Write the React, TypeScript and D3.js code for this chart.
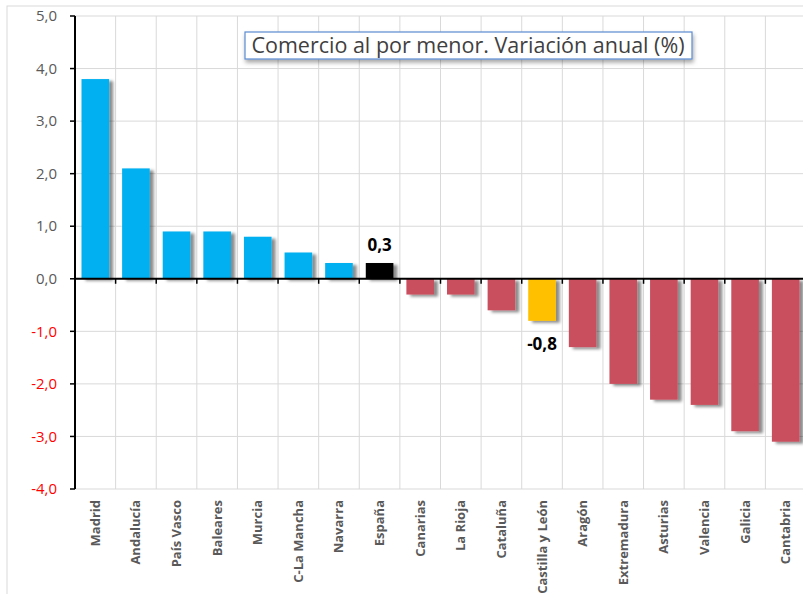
import React from 'react';
import * as d3 from 'd3';

const regions = [
  'Madrid', 'Andalucía', 'País Vasco', 'Baleares', 'Murcia', 'C-La Mancha',
  'Navarra', 'España', 'Canarias', 'La Rioja', 'Cataluña', 'Castilla y León',
  'Aragón', 'Extremadura', 'Asturias', 'Valencia', 'Galicia', 'Cantabria'
];
const variation = [
  3.8, 2.1, 0.9, 0.9, 0.8, 0.5,
  0.3, 0.3, -0.3, -0.3, -0.6, -0.8,
  -1.3, -2.0, -2.3, -2.4, -2.9, -3.1
];
const yTicks = [5, 4, 3, 2, 1, 0, -1, -2, -3, -4];
const labelled = ['España', 'Castilla y León'];
const title = 'Comercio al por menor. Variación anual (%)';

const W = 803;
const H = 594;
const font = '"Open Sans", sans-serif';

// Spanish style: decimal comma, plain hyphen for negatives
const fmt = (v: number) => d3.format('.1f')(v).replace('.', ',').replace('\u2212', '-');

const barColor = (name: string, v: number) => {
  if (name === 'España') return '#000000';
  if (name === 'Castilla y León') return '#ffc000';
  return v >= 0 ? '#00b0f0' : '#c9505f';
};

export default function App() {
  const x = d3.scaleBand().domain(regions).range([75, 806]).paddingInner(0.32).paddingOuter(0.16);
  const y = d3.scaleLinear().domain([-4, 5]).range([489, 16]);
  const step = x.step();
  const left = 75;
  const bounds = regions.map((_, i) => left + i * step).concat([left + regions.length * step]);

  return (
    <svg width={W} height={H} style={{ position: 'absolute', left: 0, top: 0, background: '#fff' }}>
      <defs>
        <filter id="shadow" x="-20%" y="-20%" width="160%" height="160%">
          <feDropShadow dx="4" dy="2" stdDeviation="1.8" floodColor="#000" floodOpacity="0.45" />
        </filter>
        <filter id="boxShadow" x="-10%" y="-30%" width="130%" height="180%">
          <feDropShadow dx="1" dy="3" stdDeviation="2" floodColor="#000" floodOpacity="0.35" />
        </filter>
      </defs>

      <rect x={7} y={6} width={W + 20} height={H + 20} fill="#fff" stroke="#d9d9d9" strokeWidth={1} />

      {/* grid */}
      {yTicks.map(t => (
        <line key={'h' + t} x1={left} x2={W} y1={y(t)} y2={y(t)} stroke="#d9d9d9" strokeWidth={1} />
      ))}
      {bounds.slice(1).map((b, i) => (
        <line key={'v' + i} x1={b} x2={b} y1={y(5)} y2={y(-4)} stroke="#d9d9d9" strokeWidth={1} />
      ))}

      {/* bars */}
      {regions.map((r, i) => {
        const v = variation[i];
        return (
          <rect
            key={r}
            x={x(r)}
            y={y(Math.max(0, v))}
            width={x.bandwidth()}
            height={Math.abs(y(v) - y(0))}
            fill={barColor(r, v)}
            filter="url(#shadow)"
          />
        );
      })}

      {/* y axis */}
      <line x1={left} x2={left} y1={y(5)} y2={y(-4)} stroke="#000" strokeWidth={2} />
      {yTicks.map(t => (
        <g key={'yt' + t}>
          <line x1={left - 5} x2={left} y1={y(t)} y2={y(t)} stroke="#000" strokeWidth={1.5} />
          <text
            x={57}
            y={y(t)}
            dy="0.35em"
            textAnchor="end"
            fontFamily={font}
            fontSize={15}
            fill={t < 0 ? '#ff0000' : '#595959'}
          >
            {fmt(t)}
          </text>
        </g>
      ))}

      {/* zero line */}
      <line x1={left} x2={W} y1={y(0)} y2={y(0)} stroke="#000" strokeWidth={2} />
      {bounds.slice(1).map((b, i) => (
        <line key={'zt' + i} x1={b} x2={b} y1={y(0)} y2={y(0) + 5} stroke="#000" strokeWidth={1.5} />
      ))}

      {/* category labels */}
      {regions.map(r => {
        const cx = (x(r) as number) + x.bandwidth() / 2;
        return (
          <text
            key={'c' + r}
            transform={`translate(${cx + 4.5},500) rotate(-90)`}
            textAnchor="end"
            fontFamily={font}
            fontSize={13}
            fontWeight="bold"
            fill="#595959"
          >
            {r}
          </text>
        );
      })}

      {/* data labels */}
      {labelled.map(r => {
        const i = regions.indexOf(r);
        const v = variation[i];
        const cx = (x(r) as number) + x.bandwidth() / 2;
        const ty = v >= 0 ? y(v) - 12 : y(v) + 29;
        return (
          <text
            key={'d' + r}
            x={cx}
            y={ty}
            textAnchor="middle"
            fontFamily={font}
            fontSize={17}
            fontWeight="bold"
            fill="#000"
          >
            {fmt(v)}
          </text>
        );
      })}

      {/* title box */}
      <rect x={245} y={32} width={447} height={27} fill="#fff" stroke="#5b8bd0" strokeWidth={1.2} filter="url(#boxShadow)" />
      <text x={468} y={52.5} textAnchor="middle" fontFamily={font} fontSize={21.5} fill="#404040">
        {title}
      </text>
    </svg>
  );
}
